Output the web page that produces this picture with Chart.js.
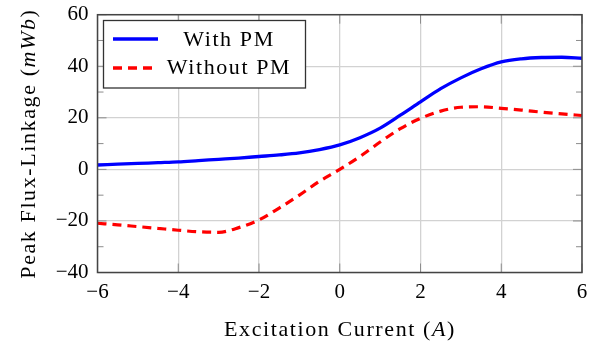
<!DOCTYPE html>
<html>
<head>
<meta charset="utf-8">
<script src="https://cdn.jsdelivr.net/npm/chart.js@4"></script>
<style>
  html, body { margin: 0; padding: 0; background: #fff; }
  #wrap { width: 602px; height: 345px; position: relative; }
</style>
</head>
<body>
<div id="wrap"><canvas id="chart" width="602" height="345"></canvas></div>
<script>
(function () {
    'use strict';

    // excitation current (A) and peak flux-linkage (mWb)
    var currents = [-6, -5.5, -5, -4.5, -4, -3.5, -3, -2.5, -2, -1.5, -1, -0.5, 0,
                    0.5, 1, 1.5, 2, 2.5, 3, 3.5, 4, 4.5, 5, 5.5, 6];
    var withPM = [1.7, 2.0, 2.3, 2.6, 2.9, 3.4, 3.9, 4.4, 5.0, 5.6, 6.4, 7.7, 9.5,
                  12.3, 16.0, 21.0, 26.2, 31.3, 35.5, 39.0, 41.7, 42.9, 43.4, 43.5, 43.1];
    var withoutPM = [-20.9, -21.5, -22.2, -22.9, -23.6, -24.2, -24.4, -22.6, -19.6, -15.0, -10.0, -4.6, 0,
                     5.0, 10.6, 15.8, 19.8, 22.6, 24.1, 24.3, 23.7, 23.0, 22.2, 21.5, 20.9];
    var xTicks = [-6, -4, -2, 0, 2, 4, 6];
    var yTicks = [-40, -20, 0, 20, 40, 60];
    var yMinorTicks = [-30, -10, 10, 30, 50];

    var SERIF = '"Liberation Serif", "DejaVu Serif", serif';
    var FS = 21;      // tick labels
    var TFS = 22;     // titles and legend
    var SPACING = '1.6px';

    function pts(ys) {
        return currents.map(function (x, i) { return { x: x, y: ys[i] }; });
    }
    function fmt(v) { return v < 0 ? '\u2212' + Math.abs(v) : String(v); }

    // frame, inward tick marks, legend box and axis titles (pgfplots look)
    var decor = {
        id: 'decor',
        afterDraw: function (chart) {
            var ctx = chart.ctx, a = chart.chartArea;
            var xs = chart.scales.x, ys = chart.scales.y;
            ctx.save();

            ctx.strokeStyle = '#8c8c8c';
            ctx.lineWidth = 1;
            xTicks.forEach(function (v) {
                var px = xs.getPixelForValue(v);
                ctx.beginPath();
                ctx.moveTo(px, a.bottom); ctx.lineTo(px, a.bottom - 9);
                ctx.moveTo(px, a.top); ctx.lineTo(px, a.top + 9);
                ctx.stroke();
            });
            yTicks.forEach(function (v) {
                var py = ys.getPixelForValue(v);
                ctx.beginPath();
                ctx.moveTo(a.left, py); ctx.lineTo(a.left + 9, py);
                ctx.moveTo(a.right, py); ctx.lineTo(a.right - 9, py);
                ctx.stroke();
            });
            yMinorTicks.forEach(function (v) {
                var py = ys.getPixelForValue(v);
                ctx.beginPath();
                ctx.moveTo(a.left, py); ctx.lineTo(a.left + 6, py);
                ctx.moveTo(a.right, py); ctx.lineTo(a.right - 6, py);
                ctx.stroke();
            });

            ctx.strokeStyle = '#444';
            ctx.lineWidth = 1.5;
            ctx.strokeRect(a.left, a.top, a.right - a.left, a.bottom - a.top);

            // legend
            var lx = 103.5, ly = 20.5, lw = 202, lh = 67.5;
            ctx.fillStyle = '#fff';
            ctx.fillRect(lx, ly, lw, lh);
            ctx.strokeStyle = '#333';
            ctx.lineWidth = 1.3;
            ctx.strokeRect(lx, ly, lw, lh);

            ctx.lineWidth = 3.3;
            ctx.strokeStyle = '#0000ff';
            ctx.beginPath(); ctx.moveTo(113, 39); ctx.lineTo(158, 39); ctx.stroke();
            ctx.strokeStyle = '#ff0000';
            ctx.setLineDash([9, 6]);
            ctx.beginPath(); ctx.moveTo(113, 68); ctx.lineTo(158, 68); ctx.stroke();
            ctx.setLineDash([]);

            drawMixed(ctx, [['With PM', false]], 229, 40, 0);
            drawMixed(ctx, [['Without PM', false]], 229, 68, 0);

            // axis titles, with the units in italics
            drawMixed(ctx, [['Excitation Current (', false], ['A', true], [')', false]], 340, 330, 0);
            drawMixed(ctx, [['Peak Flux-Linkage (', false], ['mWb', true], [')', false]], 29, (a.top + a.bottom) / 2, -Math.PI / 2);

            ctx.restore();
        }
    };

    function drawMixed(ctx, parts, cx, cy, rot) {
        ctx.save();
        ctx.translate(cx, cy);
        ctx.rotate(rot);
        ctx.fillStyle = '#000';
        ctx.textAlign = 'left';
        ctx.textBaseline = 'middle';
        ctx.letterSpacing = SPACING;
        var total = 0;
        parts.forEach(function (p) {
            ctx.font = (p[1] ? 'italic ' : '') + TFS + 'px ' + SERIF;
            p.w = ctx.measureText(p[0]).width;
            total += p.w;
        });
        var x = -total / 2;
        parts.forEach(function (p) {
            ctx.font = (p[1] ? 'italic ' : '') + TFS + 'px ' + SERIF;
            ctx.fillText(p[0], x, 0);
            x += p.w;
        });
        ctx.restore();
    }

    new Chart(document.getElementById('chart'), {
        type: 'line',
        data: {
            datasets: [
                { label: 'With PM', data: pts(withPM), borderColor: '#0000ff', borderWidth: 3.3,
                  pointRadius: 0, cubicInterpolationMode: 'monotone', fill: false },
                { label: 'Without PM', data: pts(withoutPM), borderColor: '#ff0000', borderWidth: 3.2,
                  borderDash: [9, 6], pointRadius: 0, cubicInterpolationMode: 'monotone', fill: false }
            ]
        },
        options: {
            responsive: false,
            animation: false,
            layout: { padding: { top: 14.7, right: 20, left: 0, bottom: 0 } },
            plugins: { legend: { display: false }, tooltip: { enabled: false } },
            scales: {
                x: {
                    type: 'linear', min: -6, max: 6,
                    afterFit: function (s) { s.height = 72.5; s.paddingLeft = 0; s.paddingRight = 0; },
                    afterBuildTicks: function (s) { s.ticks = xTicks.map(function (v) { return { value: v }; }); },
                    grid: { color: '#d2d2d2', lineWidth: 1.3, drawTicks: false },
                    border: { display: false },
                    ticks: { padding: 7, color: '#000', font: { family: SERIF, size: FS }, callback: fmt }
                },
                y: {
                    min: -40, max: 60,
                    afterFit: function (s) { s.width = 97.5; s.paddingTop = 0; s.paddingBottom = 0; },
                    afterBuildTicks: function (s) { s.ticks = yTicks.map(function (v) { return { value: v }; }); },
                    grid: { color: '#d2d2d2', lineWidth: 1.3, drawTicks: false },
                    border: { display: false },
                    ticks: { padding: 9, color: '#000', font: { family: SERIF, size: FS }, callback: fmt }
                }
            }
        },
        plugins: [decor]
    });
})();
</script>
</body>
</html>
